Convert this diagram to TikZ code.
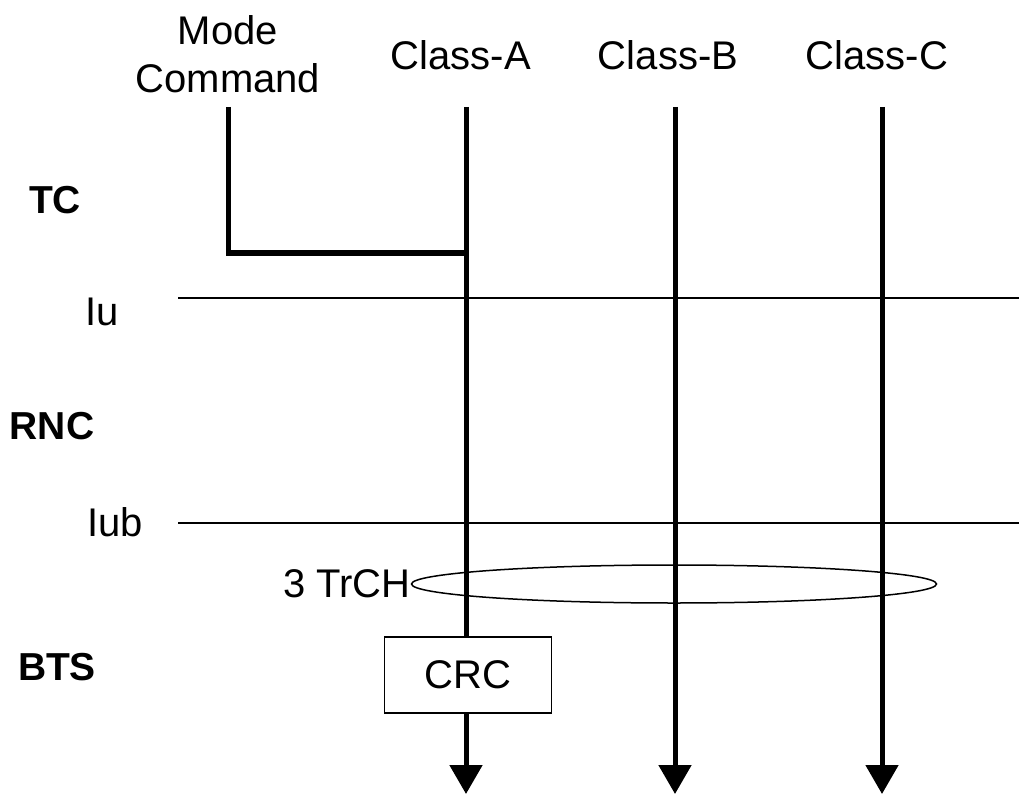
\documentclass[tikz,border=0pt]{standalone}
\usepackage{fontspec}
\setmainfont{Liberation Sans}
\usetikzlibrary{arrows.meta,shapes.geometric}
\begin{document}
\begin{tikzpicture}[x=1pt,y=-1pt,
  lbl/.style={font=\fontsize{40}{48}\selectfont, inner sep=0pt, align=center},
  blbl/.style={lbl, font=\fontsize{39}{47}\selectfont\bfseries},
  heavy/.style={line width=5pt},
  flow/.style={heavy, -{Triangle[width=32pt,length=29pt]}},
  thin/.style={line width=1.5pt}]
\useasboundingbox (0,0) rectangle (1019,794);

% column headers
\node[lbl] (modecmd) at (228,54) {Mode\\Command};
\node[lbl] (clA) at (461,55) {Class-A};
\node[lbl] (clB) at (668,55) {Class-B};
\node[lbl] (clC) at (877,55) {Class-C};

% layer names
\node[blbl] (tc)  at (55,200) {TC};
\node[blbl] (rnc) at (52,426) {RNC};
\node[blbl] (bts) at (57,667) {BTS};
\node[lbl]  (iu)  at (102,312) {Iu};
\node[lbl]  (iub) at (115,522) {Iub};

% interface lines
\coordinate (iuL)  at (178,298);
\coordinate (iuR)  at (1019,298);
\coordinate (iubL) at (178,523);
\coordinate (iubR) at (1019,523);
\draw[thin] (iuL) -- (iuR);
\draw[thin] (iubL) -- (iubR);

% line ends
\coordinate (m0) at (228,107);
\coordinate (mj) at (466,253);
\coordinate (a0) at (466,107);
\coordinate (b0) at (675,107);
\coordinate (c0) at (882,107);
\coordinate (a1) at (466,794);
\coordinate (b1) at (675,794);
\coordinate (c1) at (882,794);

% CRC block on class A
\node[draw, thin, fill=white, lbl, minimum width=167pt, minimum height=76pt] (crc) at (468,675) {CRC};

% data flows
\draw[heavy] (m0) |- (mj);
\draw[heavy] (a0) -- (a0 |- crc.north);
\draw[flow] (a0 |- crc.south) -- (a1);
\draw[flow] (b0) -- (b1);
\draw[flow] (c0) -- (c1);

% transport channel grouping
\node[draw, thin, ellipse, inner sep=0pt, minimum width=525pt, minimum height=38pt] (trch) at (674,584) {};
\node[lbl, anchor=east] (trchlbl) at (trch.west) {3 TrCH};
\end{tikzpicture}
\end{document}
